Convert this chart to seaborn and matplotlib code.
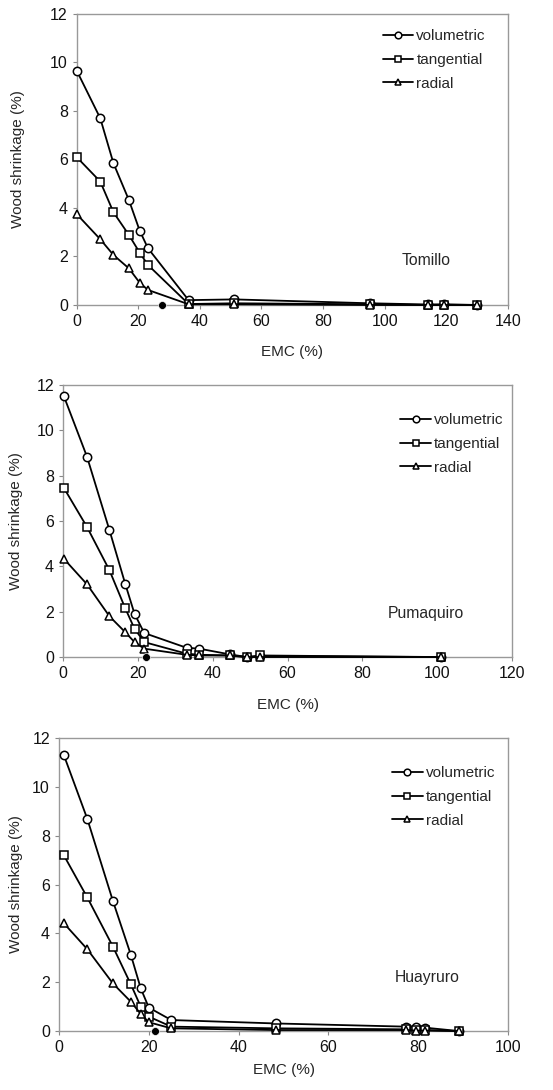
import matplotlib
matplotlib.use("Agg")
import matplotlib.pyplot as plt
import seaborn as sns
import pandas as pd
import numpy as np

# Tomillo
tom_x = [0, 7.6, 11.9, 16.9, 20.4, 23.1, 36.3, 51.2, 95.3, 114.2, 119.4, 130]
tom_vol = [9.65, 7.7, 5.84, 4.33, 3.07, 2.34, 0.2, 0.23, 0.07, 0.02, 0.03, 0.0]
tom_tan = [6.09, 5.09, 3.82, 2.89, 2.16, 1.65, 0.04, 0.07, 0.03, 0.0, 0.0, 0.0]
tom_rad = [3.74, 2.71, 2.06, 1.51, 0.92, 0.62, 0.03, 0.03, 0.0, 0.0, 0.0, 0.0]
tom_fsp = 27.6

# Pumaquiro
pum_x = [0.2, 6.4, 12.4, 16.6, 19.1, 21.7, 33.0, 36.4, 44.5, 49.2, 52.7, 101]
pum_vol = [11.52, 8.84, 5.6, 3.24, 1.91, 1.06, 0.41, 0.37, 0.12, 0.0, 0.04, 0.0]
pum_tan = [7.47, 5.74, 3.83, 2.16, 1.25, 0.66, 0.15, 0.1, 0.07, 0.0, 0.07, 0.0]
pum_rad = [4.34, 3.21, 1.8, 1.1, 0.66, 0.37, 0.1, 0.07, 0.07, 0.0, 0.0, 0.0]
pum_fsp = 22.2

# Huayruro
hua_x = [1.1, 6.3, 12.0, 16.0, 18.2, 20.0, 25.0, 48.3, 77.2, 79.4, 81.4, 89]
hua_vol = [11.29, 8.69, 5.33, 3.12, 1.75, 0.96, 0.45, 0.31, 0.18, 0.18, 0.14, 0.0]
hua_tan = [7.19, 5.47, 3.46, 1.91, 1.0, 0.59, 0.18, 0.11, 0.07, 0.04, 0.04, 0.0]
hua_rad = [4.41, 3.35, 1.95, 1.2, 0.7, 0.36, 0.11, 0.04, 0.04, 0.02, 0.02, 0.0]
hua_fsp = 21.3

sns.set_style("ticks")
plt.rcParams['font.family'] = ['Liberation Sans', 'DejaVu Sans']

fig = plt.figure(figsize=(5.53, 10.9), dpi=100)

panels = [
    # name, x, series, fsp, xmax, rect, species label pos, xlabel y, ylabel x, legend anchor
    ("Tomillo", tom_x, (tom_vol, tom_tan, tom_rad), tom_fsp, 140,
     [0.139, 0.7202, 0.779, 0.267], (113.4, 1.85), -0.137, -0.121, (0.710, 0.948)),
    ("Pumaquiro", pum_x, (pum_vol, pum_tan, pum_rad), pum_fsp, 120,
     [0.114, 0.3972, 0.812, 0.2495], (97, 1.9), -0.151, -0.089, (0.751, 0.897)),
    ("Huayruro", hua_x, (hua_vol, hua_tan, hua_rad), hua_fsp, 100,
     [0.1067, 0.0541, 0.812, 0.2688], (82, 2.2), -0.109, -0.080, (0.742, 0.904)),
]

names = ["volumetric", "tangential", "radial"]
marks = ["o", "s", "^"]

for species, x, series, fsp, xmax, rect, lpos, xly, ylx, lanchor in panels:
    ax = fig.add_axes(rect)
    for vals, name, m in zip(series, names, marks):
        sns.lineplot(x=x, y=vals, ax=ax, color="black", lw=1.3, marker=m,
                     markersize=6, markerfacecolor="white",
                     markeredgecolor="black", markeredgewidth=1.1,
                     label=name, clip_on=False, zorder=3)
    sns.scatterplot(x=[fsp], y=[0], ax=ax, color="black", s=32,
                    zorder=5, clip_on=False, legend=False)
    ax.set_xlim(0, xmax)
    ax.set_ylim(0, 12)
    ax.set_xticks(np.arange(0, xmax + 1, 20))
    ax.set_yticks(np.arange(0, 13, 2))
    ax.tick_params(labelsize=11.5, length=3, width=0.8, color="#888888",
                   labelcolor="#111111")
    for sp in ax.spines.values():
        sp.set_visible(True)
        sp.set_color("#999999")
        sp.set_linewidth(1.0)
    ax.set_xlabel("EMC (%)", fontsize=11)
    ax.set_ylabel("Wood shrinkage (%)", fontsize=11)
    ax.xaxis.set_label_coords(0.5, xly)
    ax.yaxis.set_label_coords(ylx, 0.5)
    ax.text(lpos[0], lpos[1], species, fontsize=11.3, ha="center", va="center")
    ax.legend(loc="upper left", bbox_to_anchor=lanchor, frameon=False,
              fontsize=11, handlelength=2.0, handletextpad=0.2,
              labelspacing=0.64, borderaxespad=0, borderpad=0,
              markerscale=0.8)

fig.savefig("out.png", dpi=100, facecolor="white")
